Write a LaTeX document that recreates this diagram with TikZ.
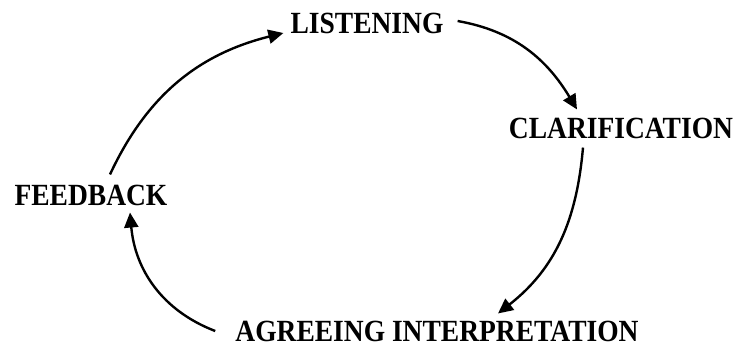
\documentclass[tikz,border=0pt]{standalone}
\usepackage{fontspec}
\usepackage{graphicx}
\setmainfont{Liberation Serif}
\usetikzlibrary{arrows.meta}
\newcommand{\tallbox}[1]{\scalebox{1}[1.12]{#1}}
\begin{document}
\begin{tikzpicture}[x=1pt,y=-1pt,
  lbl/.style={inner sep=0pt,font=\bfseries\fontsize{27.5}{30}\selectfont},
  arr/.style={line width=2.4pt,-{Triangle[length=15pt,width=14pt]}}]
\useasboundingbox (0,0) rectangle (740,349);
\node[lbl] (lis) at (367,23) {\tallbox{LISTENING}};
\node[lbl] (cla) at (621,128) {\tallbox{CLARIFICATION}};
\node[lbl] (agr) at (437,331) {\tallbox{AGREEING INTERPRETATION}};
\node[lbl] (fb) at (91,195) {\tallbox{FEEDBACK}};
\draw[arr] ([xshift=19pt,yshift=10pt]fb.north) to[out=65,in=194] ([xshift=-7pt,yshift=-10pt]lis.west);
\draw[arr] ([xshift=14pt,yshift=2pt]lis.east) to[out=-10,in=121] ([xshift=-44pt,yshift=8pt]cla.north);
\draw[arr] ([xshift=-38pt,yshift=-9pt]cla.south) to[out=-95,in=38] ([xshift=61pt,yshift=7pt]agr.north);
\draw[arr] ([xshift=-20pt]agr.west) to[out=159,in=275] ([xshift=39pt,yshift=-7pt]fb.south);
\end{tikzpicture}
\end{document}
